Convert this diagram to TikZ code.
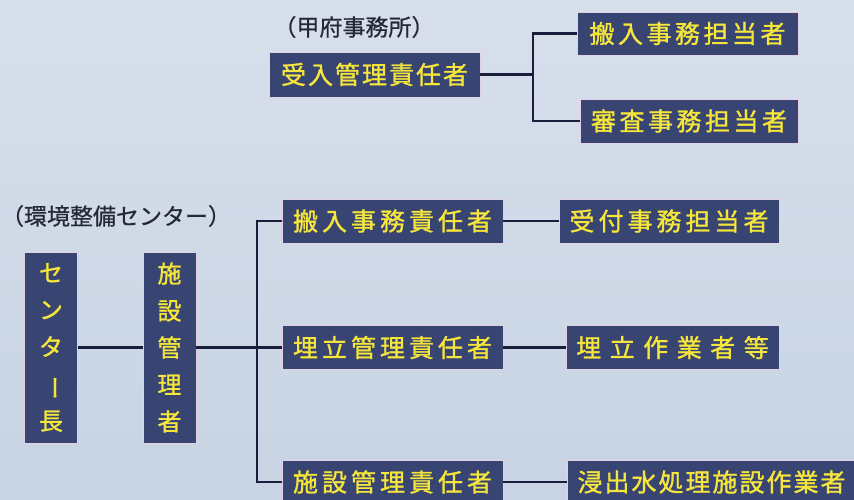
\documentclass[tikz,border=0pt]{standalone}
\usepackage{fontspec}
\newfontfamily\jp[FakeBold=1.2]{Noto Sans CJK JP}
\newfontfamily\jplbl[FakeBold=0.6]{Noto Sans CJK JP}
\usetikzlibrary{positioning}
\definecolor{bgblue}{RGB}{200,212,227}
\definecolor{bgpale}{RGB}{215,223,235}
\definecolor{boxnavy}{RGB}{56,68,114}
\definecolor{boxedge}{RGB}{228,208,228}
\definecolor{txtyellow}{RGB}{246,230,60}
\definecolor{linenavy}{RGB}{26,30,60}
\definecolor{lbl}{RGB}{38,40,55}
\newcommand{\lsp}[1]{\addfontfeature{LetterSpace=#1}}
\tikzstyle{post} = [rectangle, draw=boxedge, line width=0.8pt, fill=boxnavy, text=txtyellow, inner sep=0pt, minimum height=44pt, font=\jp\fontsize{25}{25}\selectfont]
\tikzstyle{vpost} = [post, minimum width=53pt, minimum height=191pt, align=center, font=\jp\fontsize{24}{37}\selectfont]
\tikzstyle{place} = [font=\jplbl\fontsize{23}{23}\selectfont, text=lbl, inner sep=0pt]
\tikzstyle{line} = [line width=2.2pt, draw=linenavy]

\begin{document}
\begin{tikzpicture}[x=1pt, y=1pt, node distance=100pt]

\path [use as bounding box, clip] (0,0) rectangle (854,499);
\shade [top color=bgpale, bottom color=bgblue] (0,0) rectangle (854,499);

% environment centre
\node (chief) [vpost] at (51,151.5) {セ\\ン\\タ\\\rotatebox[origin=c]{-90}{ー}\\長};
\node (shisetsu) [vpost, right of=chief, xshift=18.5pt] {施\\設\\管\\理\\者};

\node (umetate_s) [post, minimum width=221pt, right of=shisetsu, xshift=123pt] {\lsp{16}埋立管理責任者};
\node (hannyu_s) [post, minimum width=221pt, above of=umetate_s, yshift=26.5pt] {\lsp{16}搬入事務責任者};
\node (shisetsu_s) [post, minimum width=221pt, below of=umetate_s, yshift=-34.5pt] {\lsp{16}施設管理責任者};

\node (uketsuke) [post, minimum width=220pt, right of=hannyu_s, xshift=176.5pt] {\lsp{16}受付事務担当者};
\node (umetate_w) [post, minimum width=213pt, right of=umetate_s, xshift=180pt] {\lsp{34}埋立作業者等};
\node (shinshutsu) [post, minimum width=289pt, right of=shisetsu_s, xshift=219pt] {\lsp{8}浸出水処理施設作業者};

\node (kankyo) [place] at (116,283) {（環境整備センター）};

% kofu office
\node (ukeire) [post, minimum width=211pt, minimum height=45pt, above of=hannyu_s, xshift=-18pt, yshift=46.5pt] {\lsp{8}受入管理責任者};
\node (hannyu_t) [post, minimum width=221pt, minimum height=43pt, right of=ukeire, xshift=213pt, yshift=41pt] {\lsp{14}搬入事務担当者};
\node (shinsa) [post, minimum width=218pt, right of=ukeire, xshift=214.5pt, yshift=-46.5pt] {\lsp{14}審査事務担当者};
\node (kofu) [place, above of=ukeire, xshift=-20.5pt, yshift=-52.5pt] {（甲府事務所）};

\coordinate (fork) at (533,424.5);
\coordinate (bus) at (257,151.5);

\draw [line] (ukeire) -- (fork);
\draw [line] (hannyu_t.west) -| (fork) |- (shinsa.west);

\draw [line] (chief) -- (shisetsu);
\draw [line] (shisetsu) -- (umetate_s);
\draw [line] (hannyu_s.west) -| (bus) |- (shisetsu_s.west);

\draw [line] (hannyu_s) -- (uketsuke);
\draw [line] (umetate_s) -- (umetate_w);
\draw [line] (shisetsu_s) -- (shinshutsu);

\end{tikzpicture}
\end{document}
